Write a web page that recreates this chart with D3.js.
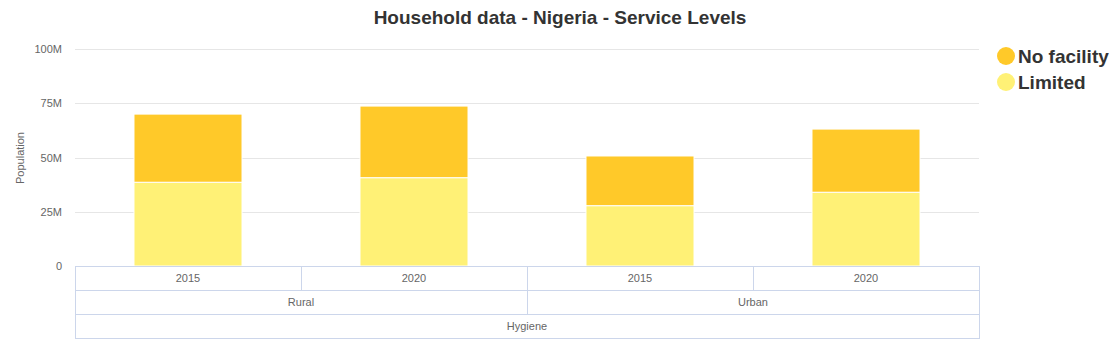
<!DOCTYPE html>
<html><head><meta charset="utf-8">
<script src="https://cdn.jsdelivr.net/npm/d3@7"></script>
<style>body{margin:0;background:#fff;font-family:"Liberation Sans",Arial,sans-serif}</style>
</head><body><svg id="c" width="1120" height="360"></svg>
<script>
const years = ["2015","2020","2015","2020"];
const areas = ["Rural","Urban"];
const groupLabel = "Hygiene";
const seriesNames = ["No facility","Limited"];
const limited = [38.6, 40.7, 27.8, 34.0];
const noFacility = [31.4, 33.0, 22.9, 29.1];
const yTicks = [0,25,50,75,100];
const tickLabels = ["0","25M","50M","75M","100M"];
const colors = {"No facility":"#ffc929","Limited":"#fff176"};

const svg = d3.select("#c");
const L=75,R=979,T=49,B=266;
const x = d3.scaleBand().domain(d3.range(4)).range([L,R]).padding(0);
const y = d3.scaleLinear().domain([0,100]).range([B,T]);
const font = '"Liberation Sans",Arial,sans-serif';

svg.append("text").attr("x",560).attr("y",24).attr("text-anchor","middle")
  .attr("font-size",19).attr("font-weight","bold").attr("fill","#333").attr("font-family",font)
  .text("Household data - Nigeria - Service Levels");

// grid
svg.append("g").selectAll("line").data(yTicks.slice(1)).join("line")
  .attr("x1",L).attr("x2",R).attr("y1",d=>Math.round(y(d))+0.5).attr("y2",d=>Math.round(y(d))+0.5)
  .attr("stroke","#e6e6e6");
svg.append("g").selectAll("text").data(yTicks).join("text")
  .attr("x",62).attr("y",d=>y(d)+4).attr("text-anchor","end").attr("font-size",11)
  .attr("fill","#666").attr("font-family",font).text((d,i)=>tickLabels[i]);
svg.append("text").attr("transform","translate(24,158) rotate(-90)").attr("text-anchor","middle")
  .attr("font-size",11).attr("fill","#666").attr("font-family",font).text("Population");

// stacked bars
const stackData = years.map((yr,i)=>({i,"Limited":limited[i],"No facility":noFacility[i]}));
const stack = d3.stack().keys(["Limited","No facility"])(stackData);
const bw = x.bandwidth()*0.478;
svg.append("g").selectAll("g").data(stack).join("g").attr("fill",d=>colors[d.key])
  .selectAll("rect").data(d=>d).join("rect")
  .attr("x",d=>x(d.data.i)+x.bandwidth()/2-bw/2).attr("width",bw)
  .attr("y",d=>y(d[1])).attr("height",d=>y(d[0])-y(d[1]))
  .attr("stroke","#fff").attr("stroke-width",1);

// category table
const rowH=24, bc="#ccd6eb";
const tg = svg.append("g");
tg.append("rect").attr("x",L+0.5).attr("y",B+0.5).attr("width",R-L).attr("height",rowH*3)
  .attr("fill","none").attr("stroke",bc);
[1,2].forEach(r=>tg.append("line").attr("x1",L).attr("x2",R).attr("y1",B+rowH*r+0.5).attr("y2",B+rowH*r+0.5).attr("stroke",bc));
[1,2,3].forEach(i=>tg.append("line").attr("x1",Math.round(x(i))+0.5).attr("x2",Math.round(x(i))+0.5)
  .attr("y1",B).attr("y2",B+rowH*(i===2?2:1)).attr("stroke",bc));
tg.selectAll("text.yr").data(years).join("text").attr("class","yr")
  .attr("x",(d,i)=>x(i)+x.bandwidth()/2).attr("y",B+rowH/2+4).attr("text-anchor","middle")
  .attr("font-size",11).attr("fill","#666").attr("font-family",font).text(d=>d);
tg.selectAll("text.ar").data(areas).join("text").attr("class","ar")
  .attr("x",(d,i)=>x(i*2)+x.bandwidth()).attr("y",B+rowH*1.5+4).attr("text-anchor","middle")
  .attr("font-size",11).attr("fill","#666").attr("font-family",font).text(d=>d);
tg.append("text").attr("x",(L+R)/2).attr("y",B+rowH*2.5+4).attr("text-anchor","middle")
  .attr("font-size",11).attr("fill","#666").attr("font-family",font).text(groupLabel);

// legend
const lg = svg.append("g").selectAll("g").data(seriesNames).join("g")
  .attr("transform",(d,i)=>`translate(1006,${56+i*26})`);
lg.append("circle").attr("r",9).attr("fill",d=>colors[d]);
lg.append("text").attr("x",12).attr("y",7).attr("font-size",19).attr("font-weight","bold")
  .attr("fill","#333").attr("font-family",font).text(d=>d);
</script></body></html>
